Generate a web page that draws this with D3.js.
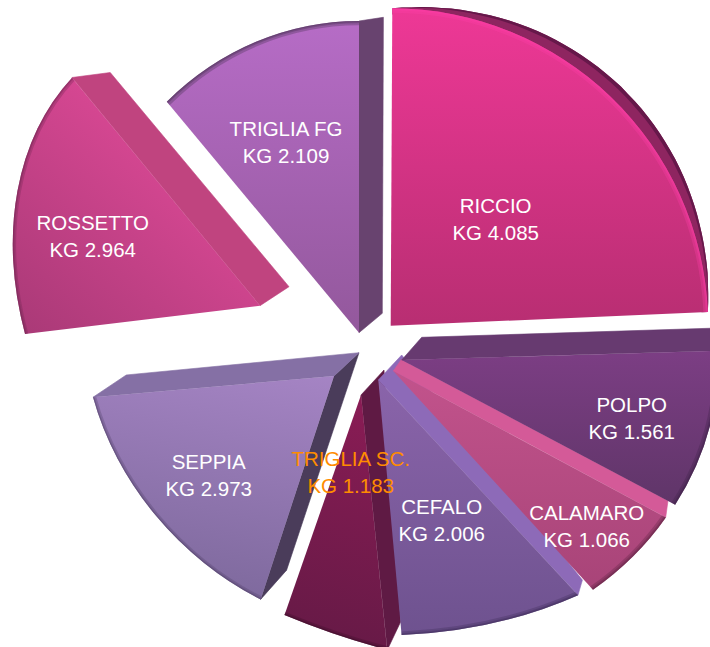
<!DOCTYPE html>
<html>
<head>
<meta charset="utf-8">
<script src="https://cdn.jsdelivr.net/npm/d3@7"></script>
<style>
  html, body { margin: 0; padding: 0; background: #fff; overflow: hidden; }
  text { font-family: "Liberation Sans", Arial, sans-serif; font-size: 20.5px; text-anchor: middle; }
</style>
</head>
<body>
<div id="pie3d"></div>
<script>
// data
const names = ["RICCIO", "POLPO", "CALAMARO", "CEFALO", "TRIGLIA SC.", "SEPPIA", "ROSSETTO", "TRIGLIA FG"];
const kilos = [4.085, 1.561, 1.066, 2.006, 1.183, 2.973, 2.964, 2.109];

// the original is a tilted 3d pie, so every exploded slice has its own view
const pieX = 380, pieY = 350;
const explodeX = [10.7, 21.7, 13.3, -1.7, -19, -46, -120, -21];
const explodeY = [-24.3, 10, 21, 30, 45, 26, -44.3, -17.3];
const radiusX = [317.5, 316.5, 319.5, 370, 409, 251, 247.3, 286];
const radiusY = [317.5, 287, 280, 255.5, 247.4, 249, 279, 311.7];
const shear = [0, 0, 0, 0, 0.3, 0.2, 0.25, 0];
const fixStart = [0.3, 6.2, 8.25, 12.7, 1.43, -1.6, -6.44, 0.1]; //degrees
const fixEnd = [5.6, 7, 6.7, 1.5, -7.8, -4.44, -7.2, 0];
const rimDepth = [0.045, 0, 0, 0, 0, 0, 0, 0];

// extruded sides: [apex dx, apex dy, rim dx, rim dy]
const wallStart = [null, [20, -22.7, 10, -23], [8, -11.5, 2.3, -16.5], [23.4, -25, 4.4, -15], [23, -25, 13.3, -28], [25, -23.3, 26, -29.3], null, null];
const wallEnd = [null, null, null, null, null, [25, -23.3, 33.3, -22.3], [29, -19, 38.3, -5], [23.3, -19.4, 24.4, -3.7]];

const faceTop = ["#ee3896", "#7c3e84", "#c2538c", "#8a64aa", "#8a1c55", "#a584c4", "#e04a98", "#b66cc6"];
const faceBottom = ["#b82e72", "#5f3568", "#a84478", "#6e528f", "#681a47", "#7f6a9e", "#ab3a78", "#93589c"];
const wallStartColor = [null, "#673a70", "#d45a98", "#8d6ab8", "#5f1a44", "#4a3c5a", null, null];
const wallEndColor = [null, null, null, null, null, "#8570a5", "#c0447f", "#68436f"];
const rimColor = ["#ff3fa8", "#3d2045", "#5a2040", "#3d2a55", "#3d0e28", "#4f3f68", "#6e2450", "#3d2a45"];
const gradTilt = [0, 0, 0, 0, 0, 0, 0.3, 0];

const labelX = [495.7, 631.7, 586.7, 441.7, 350.7, 208.7, 92.7, 286];
const labelY = [213, 412.3, 520, 514.3, 466, 469, 230, 136];
const labelColor = ["#fff", "#fff", "#fff", "#fff", "#ff8c00", "#fff", "#fff", "#fff"];

const svg = d3.select("#pie3d").append("svg")
  .attr("width", 710)
  .attr("height", 647);
const defs = svg.append("defs");

const slices = d3.pie().sort(null).value(d => d)(kilos);
const rad = Math.PI / 180;

// angle of a slice edge once the view correction is applied
function startOf(i){ return slices[i].startAngle + fixStart[i] * rad; }
function endOf(i){ return slices[i].endAngle + fixEnd[i] * rad; }

// local unit pie -> page
function project(i, angle, r){
  const x = radiusX[i] * r * Math.sin(angle);
  const y = -radiusY[i] * r * Math.cos(angle);
  return [pieX + explodeX[i] + x, pieY + explodeY[i] + y + shear[i] * x];
}
function viewOf(i){
  return "matrix(" + radiusX[i] + "," + shear[i] * radiusX[i] + ",0," + radiusY[i] + "," + (pieX + explodeX[i]) + "," + (pieY + explodeY[i]) + ")";
}

function addGradient(id, top, bottom, tilt){
  const g = defs.append("linearGradient").attr("id", id)
    .attr("x1", 0.4 + tilt).attr("y1", 0).attr("x2", 0.4 - tilt).attr("y2", 1);
  g.append("stop").attr("offset", "0%").attr("stop-color", top);
  g.append("stop").attr("offset", "100%").attr("stop-color", bottom);
}

function drawWall(i, angle, wall, color){
  if(!wall) return;
  const apex = project(i, 0, 0);
  const rim = project(i, angle, 1);
  const corners = [apex, rim, [rim[0] + wall[2], rim[1] + wall[3]], [apex[0] + wall[0], apex[1] + wall[1]]];
  svg.append("path")
    .attr("d", d3.line()(corners) + "Z")
    .attr("fill", color)
    .attr("stroke", color)
    .attr("stroke-width", 0.6);
}

const face = d3.arc().innerRadius(0).outerRadius(1);

// lower right slices sit on top of the others, so draw backwards
d3.range(kilos.length).reverse().forEach(function(i){
  const a0 = startOf(i), a1 = endOf(i);
  addGradient("face" + i, faceTop[i], faceBottom[i], gradTilt[i]);

  drawWall(i, a0, wallStart[i], wallStartColor[i]);
  drawWall(i, a1, wallEnd[i], wallEndColor[i]);

  if(rimDepth[i] > 0){
    const steps = d3.range(0, 1.001, 0.02);
    const rimWall = d3.areaRadial()
      .angle(t => a0 + (a1 - a0) * t)
      .innerRadius(0.98)
      .outerRadius(t => 1 + rimDepth[i] * Math.sin(Math.PI * t));
    svg.append("path")
      .attr("transform", viewOf(i))
      .attr("d", rimWall(steps))
      .attr("fill", "#8e2560");
    svg.append("path")
      .attr("transform", viewOf(i))
      .attr("d", d3.areaRadial()
        .angle(t => a0 + (a1 - a0) * t)
        .innerRadius(t => 1 + (rimDepth[i] - 0.012) * Math.sin(Math.PI * t))
        .outerRadius(t => 1 + rimDepth[i] * Math.sin(Math.PI * t))(steps))
      .attr("fill", "#66184a");
  }

  svg.append("path")
    .attr("transform", viewOf(i))
    .attr("d", face({startAngle: a0, endAngle: a1}))
    .attr("fill", "url(#face" + i + ")");

  // soft dark edge along the rim
  [0.014, 0.007, 0.003].forEach(function(w){
    svg.append("path")
      .attr("transform", viewOf(i))
      .attr("d", d3.arc().innerRadius(1 - w).outerRadius(1)({startAngle: a0, endAngle: a1}))
      .attr("fill", rimColor[i])
      .attr("opacity", 0.3);
  });
});

// labels go last, TRIGLIA SC. runs over its neighbours
names.forEach(function(name, i){
  svg.append("text")
    .attr("x", labelX[i]).attr("y", labelY[i])
    .attr("fill", labelColor[i])
    .text(name);
  svg.append("text")
    .attr("x", labelX[i]).attr("y", labelY[i] + 27)
    .attr("fill", labelColor[i])
    .text("KG " + d3.format(".3f")(kilos[i]));
});
</script>
</body>
</html>
